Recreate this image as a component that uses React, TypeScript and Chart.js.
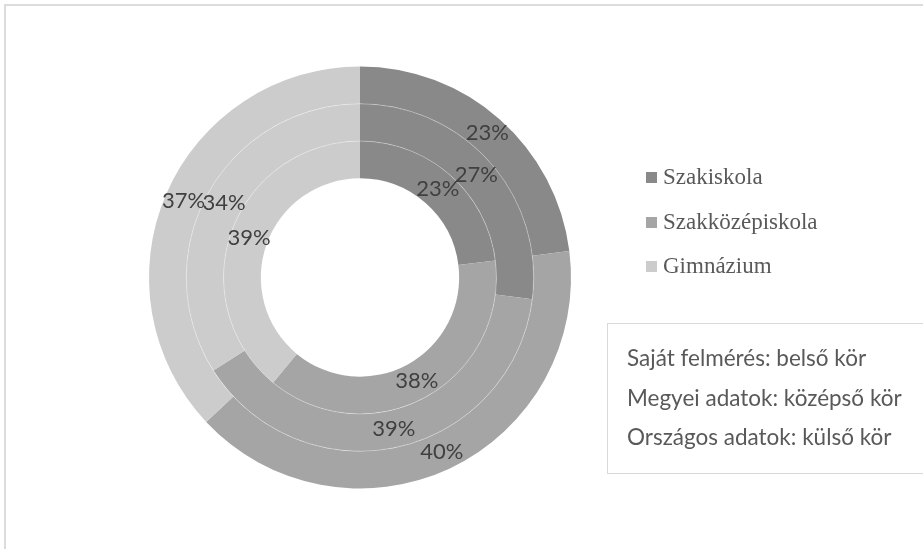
import React, { useEffect, useRef } from "react";
import { Chart, registerables } from "chart.js";

Chart.register(...registerables);

const categories = ["Szakiskola", "Szakközépiskola", "Gimnázium"];
// outer ring: national data, middle: county data, inner: own survey
const orszagosValues = [23, 40, 37];
const megyeiValues = [27, 39, 34];
const sajatValues = [23, 38, 39];
const sliceColors = ["#898989", "#a5a5a5", "#cccccc"];
const ringNotes = [
  "Saját felmérés: belső kör",
  "Megyei adatok: középső kör",
  "Országos adatok: külső kör",
];

const ringLabelsPlugin = {
  id: "ringLabels",
  afterDatasetsDraw(chart: any) {
    const ctx = chart.ctx;
    ctx.save();
    // faint white separators between rings
    chart.data.datasets.forEach((_ds: any, i: number) => {
      if (i === 0) return;
      const meta = chart.getDatasetMeta(i);
      const arc = meta.data[0];
      if (!arc) return;
      ctx.beginPath();
      ctx.strokeStyle = "rgba(255,255,255,0.45)";
      ctx.lineWidth = 0.7;
      ctx.arc(arc.x, arc.y, arc.outerRadius, 0, Math.PI * 2);
      ctx.stroke();
    });
    ctx.font = '22px Lato, "Open Sans", sans-serif';
    ctx.fillStyle = "#404040";
    ctx.textAlign = "center";
    ctx.textBaseline = "middle";
    chart.data.datasets.forEach((ds: any, i: number) => {
      const meta = chart.getDatasetMeta(i);
      meta.data.forEach((arc: any, j: number) => {
        const p = arc.tooltipPosition();
        ctx.fillText(ds.data[j] + "%", p.x, p.y);
      });
    });
    ctx.restore();
  },
};

export default function App() {
  const canvasRef = useRef<HTMLCanvasElement | null>(null);

  useEffect(() => {
    document.body.style.margin = "0";
    const canvas = canvasRef.current;
    if (!canvas) return;
    const chart = new Chart(canvas, {
      type: "doughnut",
      data: {
        labels: categories,
        datasets: [
          { label: "Országos adatok", data: orszagosValues, backgroundColor: sliceColors, borderWidth: 0 },
          { label: "Megyei adatok", data: megyeiValues, backgroundColor: sliceColors, borderWidth: 0 },
          { label: "Saját felmérés", data: sajatValues, backgroundColor: sliceColors, borderWidth: 0 },
        ],
      },
      options: {
        responsive: false,
        animation: false,
        cutout: "47%",
        hoverOffset: 0,
        layout: { padding: { left: 149, right: 352, top: 66.5, bottom: 60.5 } },
        plugins: {
          legend: { display: false },
          tooltip: { enabled: false },
          title: { display: false },
        },
      } as any,
      plugins: [ringLabelsPlugin],
    });
    return () => chart.destroy();
  }, []);

  const legendCenters = [177, 222, 266];
  const noteCenters = [358, 398, 437];

  return (
    <div style={{ position: "fixed", left: 0, top: 0, width: 923, height: 549, background: "#fff", overflow: "hidden" }}>
      <div
        style={{
          position: "absolute",
          left: 3.5,
          top: 3.5,
          width: 1000,
          height: 700,
          borderLeft: "2px solid #dcdcdc",
          borderTop: "2px solid #dcdcdc",
        }}
      />
      <canvas ref={canvasRef} width={923} height={549} style={{ position: "absolute", left: 0, top: 0 }} />
      {categories.map((c, i) => (
        <div
          key={c}
          style={{
            position: "absolute",
            left: 646,
            top: legendCenters[i] - 15,
            height: 30,
            display: "flex",
            alignItems: "center",
            fontFamily: '"Liberation Serif", "Times New Roman", serif',
            fontSize: 23,
            color: "#595959",
            whiteSpace: "nowrap",
          }}
        >
          <span style={{ display: "inline-block", width: 11, height: 11, background: sliceColors[i], marginRight: 6 }} />
          <span>{c}</span>
        </div>
      ))}
      <div
        style={{
          position: "absolute",
          left: 607,
          top: 323,
          width: 400,
          height: 151,
          border: "1.5px solid #d9d9d9",
          boxSizing: "border-box",
        }}
      />
      {ringNotes.map((t, i) => (
        <div
          key={t}
          style={{
            position: "absolute",
            left: 627,
            top: noteCenters[i] - 15,
            height: 30,
            lineHeight: "30px",
            fontFamily: 'Lato, "Open Sans", sans-serif',
            fontSize: 22.5,
            color: "#595959",
            whiteSpace: "nowrap",
          }}
        >
          {t}
        </div>
      ))}
    </div>
  );
}
